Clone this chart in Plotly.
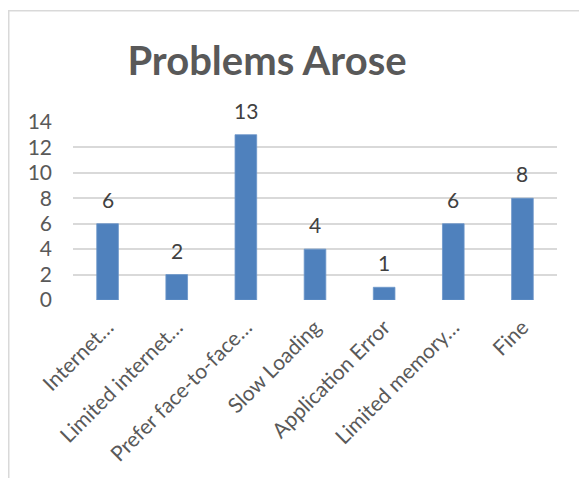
import plotly.graph_objects as go

categories = ["Internet…", "Limited internet…", "Prefer face-to-face…", "Slow Loading",
              "Application Error", "Limited memory…", "Fine"]
values = [6, 2, 13, 4, 1, 6, 8]
y_ticks = [0, 2, 4, 6, 8, 10, 12, 14]

W, H = 579, 478
L, R, T, B = 73, 22, 122, 178
pw, ph = W - L - R, H - T - B

def px_x(px):
    return (px - L) / pw

def px_y(py):
    return (H - B - py) / ph

FONT = "Lato, Carlito, Calibri, sans-serif"

fig = go.Figure()
fig.add_trace(go.Bar(
    x=categories, y=values,
    marker=dict(color="#4f81bd", line=dict(width=0.8, color="#6b95c9")),
    hoverinfo="x+y",
))

for c, v in zip(categories, values):
    fig.add_annotation(x=c, y=v, text=str(v), showarrow=False, yanchor="bottom",
                       yshift=10, font=dict(family=FONT, size=21, color="#404040"))

fig.add_shape(type="line", xref="paper", yref="paper",
              x0=px_x(8.75), x1=px_x(8.75), y0=px_y(10.75), y1=px_y(490),
              line=dict(color="#d9d9d9", width=1.5))
fig.add_shape(type="line", xref="paper", yref="paper",
              x0=px_x(8), x1=px_x(590), y0=px_y(10.75), y1=px_y(10.75),
              line=dict(color="#d9d9d9", width=1.5))

fig.update_layout(
    width=W, height=H,
    margin=dict(l=L, r=R, t=T, b=B, pad=0),
    paper_bgcolor="white", plot_bgcolor="white",
    showlegend=False,
    bargap=0.687,
    font=dict(family=FONT, color="#595959"),
    title=dict(text="<b>Problems Arose</b>", x=267 / W, xref="container", xanchor="center",
               y=1 - 61 / H, yref="container", yanchor="middle",
               font=dict(family=FONT, size=40, color="#595959")),
    xaxis=dict(tickangle=-45, tickfont=dict(family=FONT, size=21, color="#595959"),
               showgrid=False, showline=False, zeroline=False, ticks="",
               ticklabelstandoff=10),
    yaxis=dict(range=[0, 14], tickvals=y_ticks, showgrid=True, gridcolor="#d9d9d9",
               gridwidth=1.5, zeroline=False, showline=False, ticks="",
               tickfont=dict(family=FONT, size=21, color="#595959"),
               ticklabelstandoff=20),
)

fig.write_html("out.html")
